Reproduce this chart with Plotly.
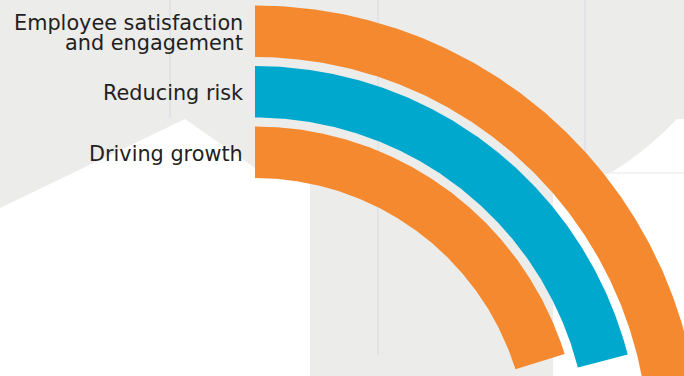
import numpy as np
import plotly.graph_objects as go

# ---- data ----
categories = ["Employee satisfaction<br>and engagement", "Reducing risk", "Driving growth"]
sweep_deg = [84.0, 75.5, 72.6]          # angular length of each arc (degrees, clockwise from 12 o'clock)
colors = ["#F4892F", "#00A8CE", "#F4892F"]

# ---- layout constants ----
W, H = 684, 376
CX, CY = 255, 451                       # pixel position of the arcs' common centre
inner_r = [394, 333.5, 273]
band = 51.5
BG = "#ECECEA"
LINE = "#E2E3E7"
FONT = dict(family="DejaVu Sans", size=20.8, color="#231F20")
LINE_GAP = 20

fig = go.Figure()

for cat, sw, col, r0 in zip(categories, sweep_deg, colors, inner_r):
    th = np.radians(np.linspace(0, sw, 240))
    r1 = r0 + band
    x = np.concatenate([r1 * np.sin(th), r0 * np.sin(th[::-1]), [0]])
    y = np.concatenate([r1 * np.cos(th), r0 * np.cos(th[::-1]), [r1]])
    fig.add_trace(go.Scatter(
        x=x, y=y, mode="lines", fill="toself", fillcolor=col,
        line=dict(width=0, color=col), hoverinfo="text",
        text=cat.replace("<br>", " "), showlegend=False))
    lines = cat.split("<br>")
    n = len(lines)
    ymid = r0 + band / 2 - 1.5
    for i, ln in enumerate(lines):
        fig.add_annotation(
            x=-10, y=ymid - (i - (n - 1) / 2) * LINE_GAP, xref="x", yref="y", text=ln,
            showarrow=False, xanchor="right", yanchor="middle", align="right",
            font=FONT)


def P(x, y):
    return f"{x / W:.5f},{1 - y / H:.5f}"


def path(points, close=True):
    s = "M " + " L ".join(P(x, y) for x, y in points)
    return s + (" Z" if close else "")


shapes = []
# white area, lower left
shapes.append(dict(type="path", xref="paper", yref="paper", layer="below",
                   path=path([(0, 208), (185, 119), (255, 168), (290, 179), (310, 183),
                              (310, 376), (0, 376)]),
                   fillcolor="white", line=dict(width=0)))
# white area, right
shapes.append(dict(type="path", xref="paper", yref="paper", layer="below",
                   path="M " + P(553, 176) + " L " + P(609, 174) + " Q " + P(648, 150) + " " +
                        P(677, 119) + " L " + P(684, 119) + " L " + P(684, 376) + " L " +
                        P(553, 376) + " Z",
                   fillcolor="white", line=dict(width=0)))
# faint vertical lines
for xv, y0, y1 in [(170, 0, 118), (378, 0, 355), (585, 0, 172)]:
    shapes.append(dict(type="line", xref="paper", yref="paper", layer="below",
                       x0=xv / W, x1=xv / W, y0=1 - y0 / H, y1=1 - y1 / H,
                       line=dict(color=LINE, width=2)))
shapes.append(dict(type="line", xref="paper", yref="paper", layer="below",
                   x0=609 / W, x1=1, y0=1 - 173 / H, y1=1 - 173 / H,
                   line=dict(color="#F3F3F5", width=2)))

fig.update_layout(
    width=W, height=H, margin=dict(l=0, r=0, t=0, b=0),
    paper_bgcolor=BG, plot_bgcolor=BG,
    xaxis=dict(range=[-CX, W - CX], visible=False, fixedrange=True),
    yaxis=dict(range=[CY - H, CY], visible=False, fixedrange=True),
    shapes=shapes, showlegend=False,
)

fig.write_html("out.html", config={"displayModeBar": False},
               post_script="document.body.style.margin='0';document.body.style.overflow='hidden';")
